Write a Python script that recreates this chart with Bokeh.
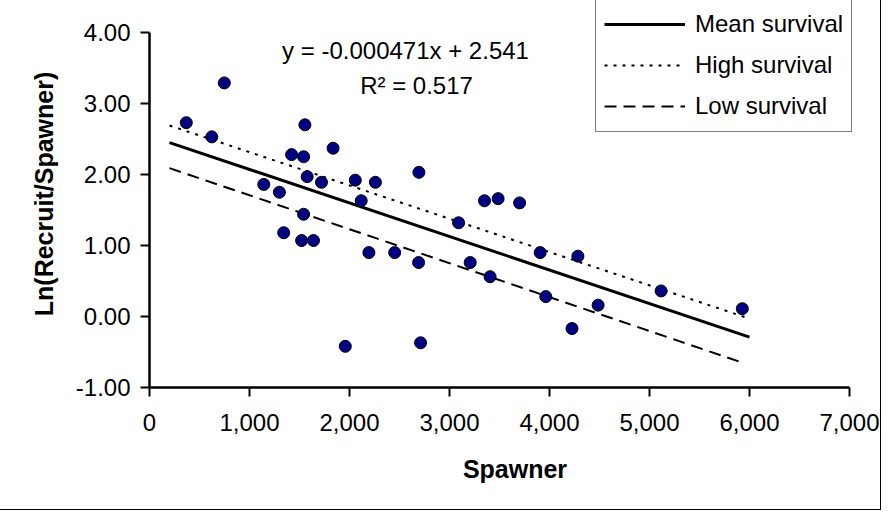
from bokeh.plotting import figure
from bokeh.models import (Range1d, Label, Legend, LegendItem, PrintfTickFormatter,
                          NumeralTickFormatter, FixedTicker)
from bokeh.embed import file_html
from bokeh.resources import INLINE

# ---- data ----
spawner = [368, 623, 748, 1143, 1299, 1342, 1421, 1521, 1541, 1541, 1554, 1577, 1640, 1720,
           1836, 1958, 2058, 2117, 2194, 2259, 2452, 2691, 2694, 2711, 3091, 3207, 3350, 3406,
           3486, 3701, 3907, 3963, 4225, 4284, 4486, 5116, 5928]
ln_rs = [2.73, 2.53, 3.29, 1.86, 1.75, 1.18, 2.28, 1.07, 2.25, 1.44, 2.70, 1.97, 1.07, 1.89,
         2.37, -0.42, 1.92, 1.63, 0.90, 1.89, 0.90, 0.76, 2.03, -0.37, 1.32, 0.76, 1.63, 0.56,
         1.66, 1.60, 0.90, 0.28, -0.17, 0.85, 0.16, 0.36, 0.11]

mean_x = [200, 6000]
mean_y = [2.45, -0.29]
high_x = [200, 6000]
high_y = [2.69, -0.03]
low_x = [200, 5930]
low_y = [2.09, -0.65]

x_ticks = [0, 1000, 2000, 3000, 4000, 5000, 6000, 7000]
y_ticks = [-1, 0, 1, 2, 3, 4]

eq_text = "y = -0.000471x + 2.541"
r2_text = "R\u00b2 = 0.517"

FONT = "Liberation Sans"
W, H = 880, 509

# frame: 700 px for 0..7000 (plus 31 px spare on the right), 355 px for -1..4 (plus 32 px spare on top)
X_MAX = 7000 + 31 * 10
Y_MAX = 4 + 32 / 71.0

p = figure(width=W, height=H, output_backend="svg", toolbar_location=None,
           x_range=Range1d(0, X_MAX), y_range=Range1d(-1, Y_MAX),
           min_border_left=149, min_border_right=0, min_border_top=0, min_border_bottom=122)
# outer chart-area border, drawn just outside the canvas
p.styles = {"outline": "1px solid black", "outline-offset": "0px"}
p.outline_line_color = None
p.grid.visible = False
p.background_fill_color = "white"
p.border_fill_color = "white"

for ax in (p.xaxis[0], p.yaxis[0]):
    ax.axis_line_width = 2.5
    ax.axis_line_color = "black"
    ax.major_tick_line_width = 2
    ax.major_tick_line_color = "black"
    ax.major_tick_in = 0
    ax.major_tick_out = 9
    ax.minor_tick_line_color = None
    ax.major_label_text_font = FONT
    ax.major_label_text_font_size = "24px"
    ax.major_label_text_color = "black"
    ax.axis_label_text_font = FONT
    ax.axis_label_text_font_size = "25px"
    ax.axis_label_text_font_style = "bold"
    ax.axis_label_text_color = "black"

p.xaxis.bounds = (x_ticks[0], x_ticks[-1])
p.yaxis.bounds = (y_ticks[0], y_ticks[-1])
p.xaxis.ticker = FixedTicker(ticks=x_ticks)
p.yaxis.ticker = FixedTicker(ticks=y_ticks)
p.xaxis.formatter = NumeralTickFormatter(format="0,0")
p.yaxis.formatter = PrintfTickFormatter(format="%.2f")
p.xaxis.axis_label = "Spawner"
p.yaxis.axis_label = "Ln(Recruit/Spawner)"
p.xaxis.major_label_standoff = 17
p.yaxis.major_label_standoff = 10
p.xaxis.axis_label_standoff = 21
p.yaxis.axis_label_standoff = 15

r_mean = p.line(mean_x, mean_y, line_color="black", line_width=3)
r_high = p.line(high_x, high_y, line_color="black", line_width=2, line_dash="3 6")
r_low = p.line(low_x, low_y, line_color="black", line_width=2, line_dash="12 7")

p.scatter(spawner, ln_rs, size=12, fill_color="#000080", line_color="black", line_width=1)

p.add_layout(Label(x=2560, y=3.74, text=eq_text, text_align="center", text_baseline="middle",
                   text_font=FONT, text_font_size="24px", text_color="black"))
p.add_layout(Label(x=2670, y=3.25, text=r2_text, text_align="center", text_baseline="middle",
                   text_font=FONT, text_font_size="24px", text_color="black"))

legend = Legend(items=[LegendItem(label="Mean survival", renderers=[r_mean]),
                       LegendItem(label="High survival", renderers=[r_high]),
                       LegendItem(label="Low survival", renderers=[r_low])],
                location=(446, 255))
legend.label_text_font = FONT
legend.label_text_font_size = "24px"
legend.label_text_color = "black"
legend.glyph_width = 81
legend.glyph_height = 34
legend.label_height = 34
legend.label_standoff = 10
legend.spacing = 7
legend.padding = 8
legend.margin = 0
legend.border_line_color = "black"
legend.border_line_width = 1
legend.background_fill_color = "white"
legend.background_fill_alpha = 1
p.add_layout(legend, "center")

open("out.html", "w").write(file_html(p, INLINE))
